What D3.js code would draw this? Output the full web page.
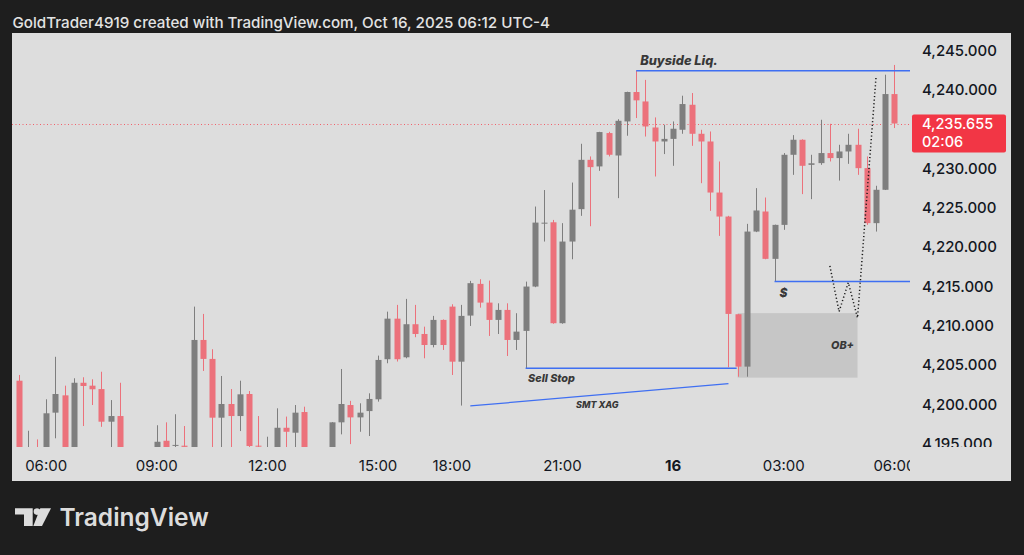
<!DOCTYPE html>
<html>
<head>
<meta charset="utf-8">
<script src="https://cdn.jsdelivr.net/npm/d3@7/dist/d3.min.js"></script>
<style>
  html, body { margin: 0; padding: 0; background: #1e1e1e; }
  svg { display: block; }
  text { font-family: Inter, "Noto Sans", sans-serif; }
</style>
</head>
<body>
<svg id="chart" width="1024" height="555"></svg>
<script>
// ---------------- DATA ----------------
const times = [
  "10-15 05:15","10-15 05:30","10-15 05:45","10-15 06:00","10-15 06:15","10-15 06:30","10-15 06:45","10-15 07:00",
  "10-15 07:15","10-15 07:30","10-15 07:45","10-15 08:00","10-15 08:15","10-15 08:30","10-15 08:45","10-15 09:00",
  "10-15 09:15","10-15 09:30","10-15 09:45","10-15 10:00","10-15 10:15","10-15 10:30","10-15 10:45","10-15 11:00",
  "10-15 11:15","10-15 11:30","10-15 11:45","10-15 12:00","10-15 12:15","10-15 12:30","10-15 12:45","10-15 13:00",
  "10-15 13:15","10-15 13:30","10-15 13:45","10-15 14:00","10-15 14:15","10-15 14:30","10-15 14:45","10-15 15:00",
  "10-15 15:15","10-15 15:30","10-15 15:45","10-15 16:00","10-15 16:15","10-15 16:30","10-15 16:45","10-15 18:00",
  "10-15 18:15","10-15 18:30","10-15 18:45","10-15 19:00","10-15 19:15","10-15 19:30","10-15 19:45","10-15 20:00",
  "10-15 20:15","10-15 20:30","10-15 20:45","10-15 21:00","10-15 21:15","10-15 21:30","10-15 21:45","10-15 22:00",
  "10-15 22:15","10-15 22:30","10-15 22:45","10-15 23:00","10-15 23:15","10-15 23:30","10-15 23:45","10-16 00:00",
  "10-16 00:15","10-16 00:30","10-16 00:45","10-16 01:00","10-16 01:15","10-16 01:30","10-16 01:45","10-16 02:00",
  "10-16 02:15","10-16 02:30","10-16 02:45","10-16 03:00","10-16 03:15","10-16 03:30","10-16 03:45","10-16 04:00",
  "10-16 04:15","10-16 04:30","10-16 04:45","10-16 05:00","10-16 05:15","10-16 05:30","10-16 05:45","10-16 06:00"
];
const opens = [
  4202.96,4192.8,4194.2,4193.8,4198.9,4201.1,4194.0,4202.7,
  4202.33,4201.9,4197.75,4198.47,4194.0,4191.2,4192.6,4194.3,
  4195.33,4194.7,4194.7,4194.2,4208.14,4205.73,4198.26,4200.0,
  4198.47,4201.27,4194.7,4193.0,4194.0,4196.98,4196.35,4198.98,
  4194.3,4192.0,4193.4,4197.67,4199.87,4198.3,4199.1,4200.6,
  4205.69,4210.85,4205.94,4210.14,4208.9,4207.5,4210.69,4212.38,
  4205.38,4211.24,4215.27,4212.89,4210.69,4211.96,4208.14,4209.29,
  4214.93,4222.95,4223.1,4210.27,4220.65,4224.77,4231.04,4230.2,
  4234.44,4231.59,4235.92,4239.66,4238.46,4235.15,4233.37,4233.7,
  4234.86,4238.04,4234.35,4233.37,4226.88,4223.83,4211.41,4204.75,
  4221.92,4224.47,4218.45,4222.77,4231.68,4233.59,4230.4,4230.62,
  4231.9,4231.26,4232.1,4232.95,4229.98,4222.99,4227.23,4239.4
];
const highs = [
  4203.69,4196.6,4195.5,4200.6,4206.0,4202.33,4203.27,4203.4,
  4203.14,4204.1,4200.5,4202.7,4194.3,4193.6,4194.2,4197.3,
  4197.67,4198.7,4197.2,4212.38,4211.45,4206.96,4203.56,4201.9,
  4202.96,4201.65,4198.47,4195.84,4199.45,4198.4,4199.87,4199.66,
  4194.4,4194.2,4197.7,4204.45,4200.4,4200.09,4201.36,4206.15,
  4211.74,4212.6,4213.36,4212.6,4209.83,4211.2,4210.75,4212.68,
  4212.6,4215.65,4215.86,4215.69,4212.8,4212.8,4211.54,4215.56,
  4225.1,4227.2,4223.4,4222.99,4228.15,4233.08,4231.47,4234.6,
  4234.6,4236.2,4239.7,4242.37,4241.2,4236.43,4235.5,4235.92,
  4239.19,4239.53,4234.86,4234.64,4230.83,4223.92,4211.45,4222.9,
  4227.44,4226.25,4222.8,4231.9,4234.18,4233.65,4231.68,4236.13,
  4235.62,4232.95,4234.35,4234.99,4231.47,4227.74,4241.86,4243.1
];
const lows = [
  4193.0,4192.0,4193.0,4193.0,4195.64,4193.5,4193.5,4197.2,
  4199.87,4197.1,4194.0,4193.5,4190.5,4189.8,4191.5,4193.8,
  4193.8,4194.4,4193.9,4193.8,4204.2,4194.0,4194.0,4194.0,
  4196.56,4194.0,4193.8,4192.5,4193.6,4194.0,4194.0,4193.8,
  4191.0,4190.8,4193.0,4196.14,4194.9,4196.47,4195.93,4200.3,
  4205.18,4205.4,4205.81,4208.49,4205.81,4207.2,4206.87,4203.69,
  4199.8,4209.92,4212.25,4208.65,4208.9,4206.1,4206.87,4204.54,
  4214.85,4220.65,4210.2,4210.2,4218.4,4223.92,4222.6,4229.64,
  4231.47,4226.17,4234.1,4236.35,4234.0,4228.92,4231.77,4230.28,
  4234.35,4232.82,4228.07,4224.55,4221.37,4204.67,4203.47,4203.47,
  4221.85,4218.4,4215.56,4222.14,4229.13,4226.68,4226.04,4230.4,
  4230.83,4228.4,4230.53,4229.13,4222.77,4221.92,4227.2,4235.08
];
const closes = [
  4193.5,4193.8,4193.5,4198.82,4201.27,4194.0,4202.7,4202.29,
  4201.87,4197.75,4198.47,4194.0,4191.2,4192.6,4193.9,4195.2,
  4194.3,4194.8,4194.55,4208.14,4205.73,4198.26,4200.0,4198.47,
  4201.23,4194.66,4194.6,4194.0,4196.98,4196.47,4198.9,4194.3,
  4192.0,4193.4,4197.67,4200.0,4198.3,4198.9,4200.64,4205.6,
  4210.85,4205.69,4210.14,4208.9,4207.5,4210.69,4207.5,4205.38,
  4211.2,4215.36,4212.89,4210.69,4211.96,4208.14,4209.2,4214.93,
  4223.06,4223.05,4210.27,4220.65,4224.7,4231.04,4230.11,4234.57,
  4231.68,4236.0,4239.66,4238.6,4235.28,4233.37,4233.7,4234.99,
  4238.13,4234.35,4233.37,4226.88,4223.83,4211.45,4204.75,4221.92,
  4224.6,4218.45,4222.77,4231.68,4233.59,4230.28,4230.6,4231.9,
  4231.26,4232.1,4232.95,4229.98,4222.99,4227.23,4239.4,4235.655
];

const priceTicks = [4195,4200,4205,4210,4215,4220,4225,4230,4240,4245];
const timeTickKeys   = ["10-15 06:00","10-15 09:00","10-15 12:00","10-15 15:00","10-15 18:00","10-15 21:00","10-16 00:00","10-16 03:00","10-16 06:00"];
const timeTickLabels = ["06:00","09:00","12:00","15:00","18:00","21:00","16","03:00","06:00"];
const timeTickBold   = [false,false,false,false,false,false,true,false,false];

const lastPrice = 4235.655;
const countdown = "02:06";

// annotations (time key, price)
const buysideLine = { t: "10-15 23:00", p: 4242.37, label: "Buyside Liq." };
const sellStopLine = { t0: "10-15 20:00", t1: "10-16 01:45", p: 4204.54, label: "Sell Stop" };
const smtLine = { t0: "10-15 18:30", p0: 4199.75, t1: "10-16 01:30", p1: 4202.58, label: "SMT XAG" };
const dollarLine = { t: "10-16 02:45", p: 4215.56, label: "$" };
const obZone = { t0: "10-16 01:45", t1: "10-16 05:00", top: 4211.55, bottom: 4203.35, label: "OB+" };
const pathTimes  = ["10-16 04:15","10-16 04:30","10-16 04:45","10-16 05:00","10-16 05:30"];
const pathPrices = [4217.56, 4211.75, 4215.43, 4210.95, 4241.44];

// ---------------- LAYOUT ----------------
const W = 1024, H = 555;
const panel = { x: 12, y: 33, w: 999, h: 448 };
const plot = { left: 12, right: 910, top: 33, bottom: 447 };

const svg = d3.select("#chart");

svg.append("rect").attr("x",0).attr("y",0).attr("width",W).attr("height",H).attr("fill","#1e1e1e");
svg.append("rect").attr("x",panel.x).attr("y",panel.y).attr("width",panel.w).attr("height",panel.h).attr("fill","#dddddd");

// header
svg.append("text").attr("x",12.5).attr("y",27.5)
  .attr("fill","#e3e3e3").attr("font-size",15.2).attr("font-weight",500)
  .text("GoldTrader4919 created with TradingView.com, Oct 16, 2025 06:12 UTC-4");

// scales
const step = 9.22;
const x = d3.scaleBand().domain(times)
  .range([18.5 - step/2, 18.5 + (times.length - 1) * step + step/2])
  .padding(0);
const cx = t => x(t) + x.bandwidth()/2;
const y = d3.scaleLinear().domain([4200, 4245]).range([404, 50]);

const defs = svg.append("defs");
defs.append("clipPath").attr("id","plotClip").append("rect")
  .attr("x",plot.left).attr("y",plot.top).attr("width",plot.right-plot.left).attr("height",plot.bottom-plot.top);
defs.append("clipPath").attr("id","axisClip").append("rect")
  .attr("x",910).attr("y",plot.top).attr("width",101).attr("height",plot.bottom-plot.top);
defs.append("clipPath").attr("id","timeClip").append("rect")
  .attr("x", 0).attr("y", 447).attr("width", 910).attr("height", 34);

const g = svg.append("g").attr("clip-path","url(#plotClip)");

const RED = "#ec717b", GRAY = "#7e7e7e", BLUE = "#3f6ff2", TXT = "#383838";

// OB zone (behind candles)
g.append("rect")
  .attr("x", cx(obZone.t0)).attr("y", y(obZone.top))
  .attr("width", cx(obZone.t1) - cx(obZone.t0))
  .attr("height", y(obZone.bottom) - y(obZone.top))
  .attr("fill", "#c6c6c6");

// last price dotted line
g.append("line")
  .attr("x1", plot.left).attr("x2", plot.right)
  .attr("y1", Math.round(y(lastPrice)) + 0.5).attr("y2", Math.round(y(lastPrice)) + 0.5)
  .attr("stroke", "#f0606a").attr("stroke-width", 1).attr("stroke-dasharray", "1,2.5");

// candles
const candles = times.map((t,i) => ({ t, o: opens[i], h: highs[i], l: lows[i], c: closes[i] }));
const cg = g.append("g");
const bodyW = 6;
cg.selectAll("line.wick").data(candles).join("line")
  .attr("class","wick")
  .attr("x1", d => Math.round(cx(d.t)) + 0.5).attr("x2", d => Math.round(cx(d.t)) + 0.5)
  .attr("y1", d => y(d.h)).attr("y2", d => y(d.l))
  .attr("stroke", d => d.c >= d.o ? GRAY : RED).attr("stroke-width", 1);
cg.selectAll("rect.body").data(candles).join("rect")
  .attr("class","body")
  .attr("x", d => Math.round(cx(d.t)) + 0.5 - bodyW/2)
  .attr("y", d => y(Math.max(d.o, d.c)))
  .attr("width", bodyW)
  .attr("height", d => Math.max(1, Math.abs(y(d.o) - y(d.c))))
  .attr("fill", d => d.c >= d.o ? GRAY : RED);

// annotation lines
const ag = g.append("g");
ag.append("line")
  .attr("x1", cx(buysideLine.t)).attr("x2", plot.right)
  .attr("y1", y(buysideLine.p)).attr("y2", y(buysideLine.p))
  .attr("stroke", BLUE).attr("stroke-width", 1.5);
ag.append("line")
  .attr("x1", cx(sellStopLine.t0)).attr("x2", cx(sellStopLine.t1) - 1)
  .attr("y1", y(sellStopLine.p)).attr("y2", y(sellStopLine.p))
  .attr("stroke", BLUE).attr("stroke-width", 1.5);
ag.append("line")
  .attr("x1", cx(smtLine.t0)).attr("x2", cx(smtLine.t1))
  .attr("y1", y(smtLine.p0)).attr("y2", y(smtLine.p1))
  .attr("stroke", BLUE).attr("stroke-width", 1.3);
ag.append("line")
  .attr("x1", cx(dollarLine.t)).attr("x2", plot.right)
  .attr("y1", y(dollarLine.p)).attr("y2", y(dollarLine.p))
  .attr("stroke", BLUE).attr("stroke-width", 1.5);

// dotted path
const pathPts = pathTimes.map((t,i) => [cx(t), y(pathPrices[i])]);
ag.append("path")
  .attr("d", d3.line()(pathPts))
  .attr("fill","none").attr("stroke","#1a1a1a").attr("stroke-width",1.5)
  .attr("stroke-dasharray","1.2,2.4");

// annotation labels
const lab = (xx, yy, s, size, anchor) => ag.append("text")
  .attr("x", xx).attr("y", yy).attr("fill", TXT)
  .attr("font-size", size).attr("font-weight", 800).attr("font-style", "italic")
  .attr("text-anchor", anchor || "start").text(s);
lab(cx(buysideLine.t) + 4, y(buysideLine.p) - 6, buysideLine.label, 12.8);
lab(cx(sellStopLine.t0) + 2.5, y(sellStopLine.p) + 13.5, sellStopLine.label, 10.8);
lab(576, y(smtLine.p1) + 24, smtLine.label, 9);
lab(cx(dollarLine.t) + 9, y(dollarLine.p) + 15, dollarLine.label, 12, "middle");
lab(cx(obZone.t1) - 3.5, (y(obZone.top) + y(obZone.bottom)) / 2 + 4, obZone.label, 10.8, "end");

// right price axis
const axisG = svg.append("g");
axisG.append("g").attr("clip-path","url(#axisClip)")
  .selectAll("text.pt").data(priceTicks).join("text")
  .attr("class","pt")
  .attr("x", 922).attr("y", d => y(d) + 5.5)
  .attr("fill", "#131722").attr("font-size", 15).attr("font-weight", 500)
  .text(d => d3.format(",.3f")(d));

// last price badge
const by = y(lastPrice);
axisG.append("rect").attr("x", 912).attr("y", by - 9).attr("width", 94).attr("height", 38)
  .attr("rx", 2).attr("fill", "#f23645");
axisG.append("text").attr("x", 922).attr("y", by + 5.5)
  .attr("fill", "#ffffff").attr("font-size", 14.5).attr("font-weight", 500)
  .text(d3.format(",.3f")(lastPrice));
axisG.append("text").attr("x", 922).attr("y", by + 23.5)
  .attr("fill", "#ffffff").attr("font-size", 14.5).attr("font-weight", 500)
  .text(countdown);

// bottom time axis
const tg = svg.append("g");
tg.selectAll("text.tt").data(timeTickKeys).join("text")
  .attr("class","tt")
  .attr("x", d => cx(d)).attr("y", 470.5)
  .attr("text-anchor","middle")
  .attr("fill","#131722").attr("font-size",15)
  .attr("font-weight", (d,i) => timeTickBold[i] ? 700 : 400)
  .attr("clip-path", (d,i) => i === timeTickKeys.length - 1 ? "url(#timeClip)" : null)
  .text((d,i) => timeTickLabels[i]);

// footer logo
const fg = svg.append("g").attr("fill","#dcdcdc");
fg.append("path").attr("d","M15,508.3 H32.7 V526 H24 V514.5 H15 Z");
fg.append("circle").attr("cx",37).attr("cy",511.6).attr("r",3.3);
fg.append("path").attr("d","M40.3,508.3 H51 L42,526 H33.3 Z");
fg.append("text").attr("x",59.5).attr("y",526).attr("font-size",24.5).attr("font-weight",600)
  .attr("fill","#dcdcdc").text("TradingView");
</script>
</body>
</html>
